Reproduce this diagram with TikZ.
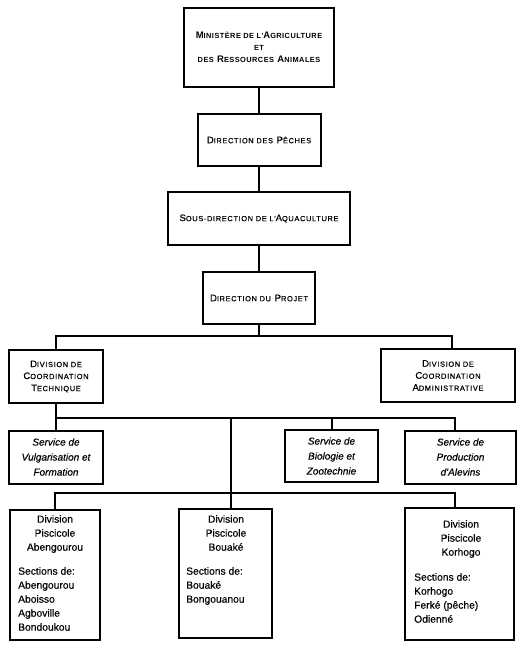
\documentclass[tikz,border=0pt]{standalone}
\usepackage{fontspec}
\setmainfont{Liberation Sans}[FakeBold=0.3]
\newfontfamily\scfont[LetterSpace=9,FakeBold=0.4]{Liberation Sans}
\newfontfamily\scbfont[LetterSpace=6]{Liberation Sans Bold}
\newfontfamily\itfont[FakeBold=0.4]{Liberation Sans Italic}
\newcommand\Cp[1]{{\fontsize{9.5}{12}\selectfont #1}}
\newcommand\Sm[1]{{\fontsize{7.4}{12}\selectfont #1}}
\tikzset{
  box/.style={draw, line width=2pt, rectangle, inner sep=0pt, align=center},
  ittext/.style={font=\fontsize{10}{15}\selectfont\itfont, align=center},
  plain/.style={font=\fontsize{10.3}{14}\selectfont, align=left, inner sep=0pt},
  conn/.style={line width=2pt},
}
\begin{document}
\begin{tikzpicture}[x=1pt,y=-1pt]
\useasboundingbox (0,0) rectangle (525,647);
% top chain
\node[box, minimum width=150pt, minimum height=79pt, font=\scbfont, align=center] (min) at (259,47.5)
  {\baselineskip=12.5pt \Cp{M}\Sm{INISTÈRE DE L'}\Cp{A}\Sm{GRICULTURE}\\ \Sm{ET}\\ \Sm{DES} \Cp{R}\Sm{ESSOURCES} \Cp{A}\Sm{NIMALES}};
\node[box, minimum width=123pt, minimum height=52pt, font=\scfont] (pech) at (259,140)
  {\Cp{D}\Sm{IRECTION DES} \Cp{P}\Sm{ÊCHES}};
\node[box, minimum width=182pt, minimum height=53pt, font=\scfont] (sous) at (259,218.5)
  {\Cp{S}\Sm{OUS-DIRECTION DE L'}\Cp{A}\Sm{QUACULTURE}};
\node[box, minimum width=112pt, minimum height=52pt, font=\scfont] (proj) at (259,298)
  {\Cp{D}\Sm{IRECTION DU} \Cp{P}\Sm{ROJET}};
% divisions de coordination
\node[box, minimum width=94pt, minimum height=53pt, font=\scfont] (dtech) at (56,376.5)
  {\baselineskip=14pt \Cp{D}\Sm{IVISION DE}\\ \Cp{C}\Sm{OORDINATION}\\ \Cp{T}\Sm{ECHNIQUE}};
\node[box, minimum width=134pt, minimum height=53pt, font=\scfont] (dadm) at (448,375.5)
  {\baselineskip=14pt \Cp{D}\Sm{IVISION DE}\\ \Cp{C}\Sm{OORDINATION}\\ \Cp{A}\Sm{DMINISTRATIVE}};
% services
\node[box, ittext, minimum width=94pt, minimum height=53pt] (svulg) at (56,457)
  {Service de\\ Vulgarisation et\\ Formation};
\node[box, ittext, minimum width=93pt, minimum height=52pt] (sbio) at (331.5,456)
  {Service de\\ Biologie et\\ Zootechnie};
\node[box, ittext, minimum width=111pt, minimum height=53pt] (sprod) at (460.5,457)
  {Service de\\ Production\\ d'Alevins};
% piscicole divisions
\node[box, minimum width=90pt, minimum height=130pt] (dab) at (55,575) {};
\node[box, minimum width=93pt, minimum height=129pt] (dbo) at (225.5,573.5) {};
\node[box, minimum width=109pt, minimum height=132pt] (dko) at (459.5,574) {};
\node[plain, align=center, anchor=north] (dabt) at (55,515) {Division\\ Piscicole\\ Abengourou};
\node[plain, anchor=north west] (dabs) at (18,567) {Sections de:\\ Abengourou\\ Aboisso\\ Agboville\\ Bondoukou};
\node[plain, align=center, anchor=north] (dbot) at (226,515) {Division\\ Piscicole\\ Bouaké};
\node[plain, anchor=north west] (dbos) at (186,567) {Sections de:\\ Bouaké\\ Bongouanou};
\node[plain, align=center, anchor=north] (dkot) at (461,520) {Division\\ Piscicole\\ Korhogo};
\node[plain, anchor=north west] (dkos) at (414,573) {Sections de:\\ Korhogo\\ Ferké (pêche)\\ Odienné};
% connectors
\draw[conn] (min.south) -- (pech.north);
\draw[conn] (pech.south) -- (sous.north);
\draw[conn] (sous.south) -- (proj.north);
\coordinate (busA) at (259,336);
\coordinate (admtop) at (452,349);
\draw[conn] (proj.south) -- (busA);
\draw[conn] (dtech.north) |- (busA) -| (admtop);
\coordinate (busB) at (56,418);
\coordinate (bioTop) at (331.5,430);
\coordinate (prodTop) at (455,430.5);
\draw[conn] (dtech.south) -- (svulg.north);
\draw[conn] (busB) -| (prodTop);
\draw[conn] (bioTop) -- (bioTop |- busB);
\coordinate (midB) at (231,418);
\coordinate (busC) at (231,493);
\coordinate (boTop) at (231,509);
\draw[conn] (midB) -- (boTop);
\coordinate (koTop) at (455,508);
\draw[conn] (dab.north) |- (busC) -| (koTop);
\end{tikzpicture}
\end{document}
